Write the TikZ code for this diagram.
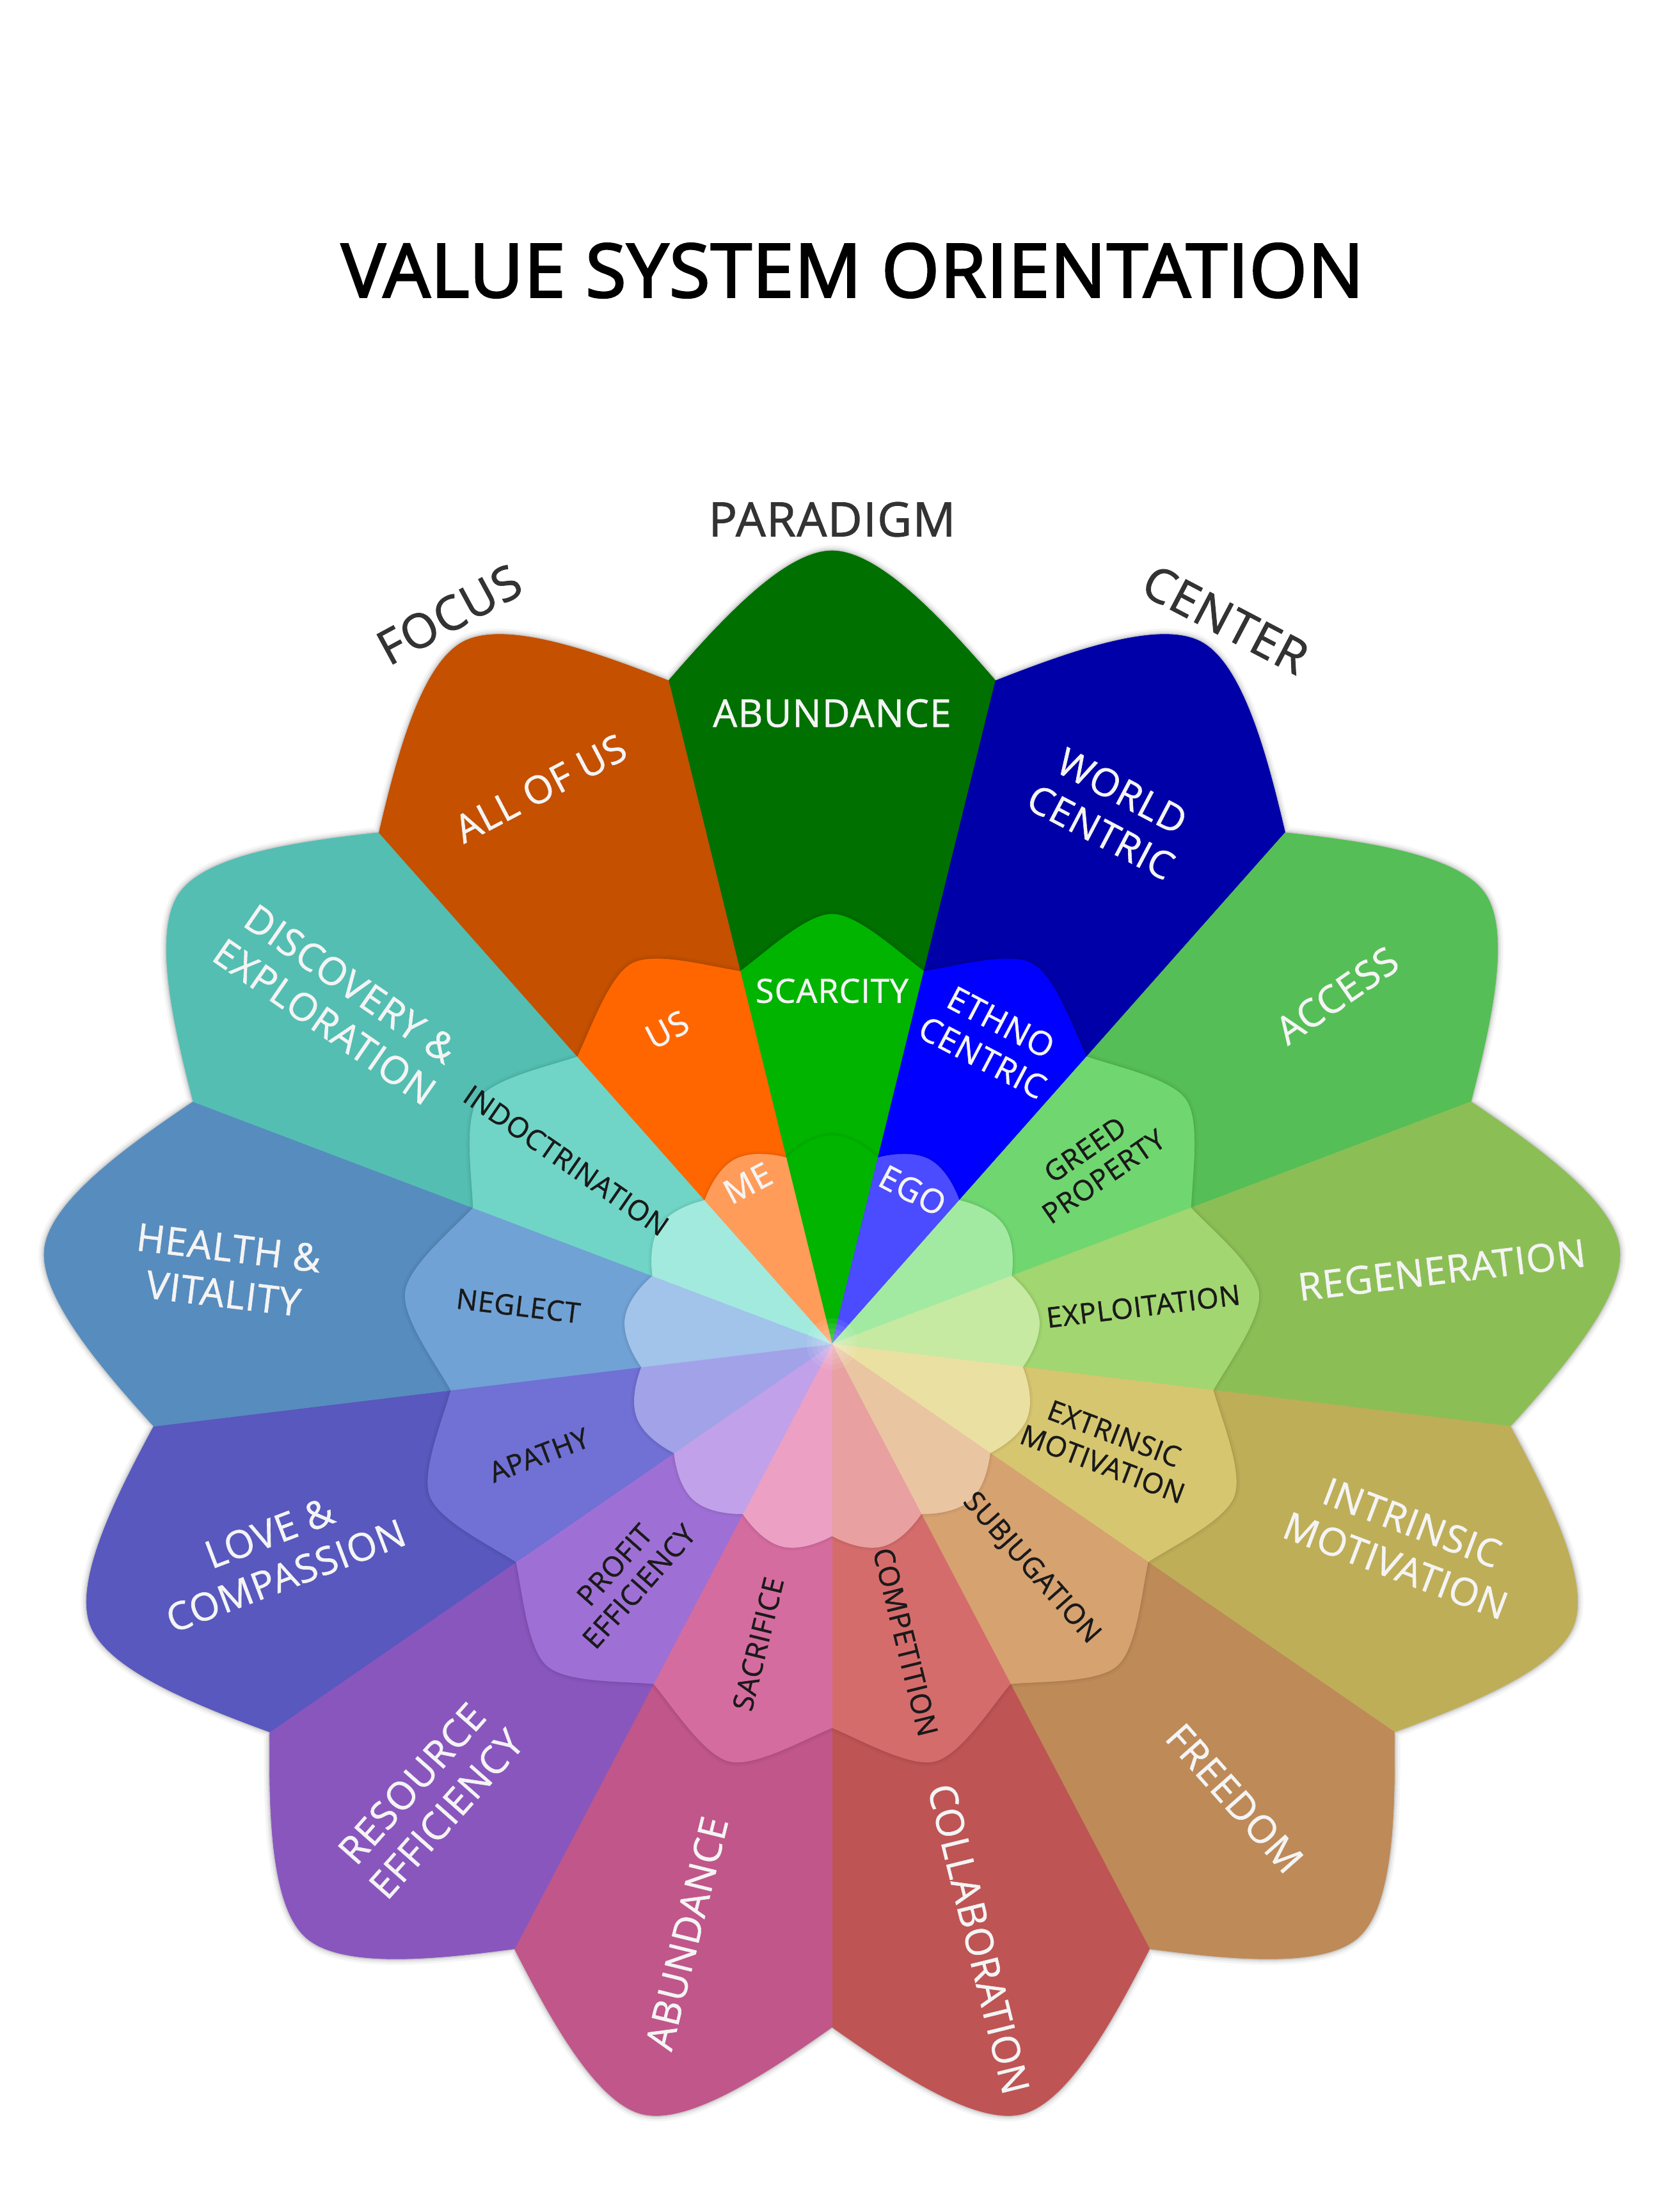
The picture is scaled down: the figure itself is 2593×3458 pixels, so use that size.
\documentclass[tikz,border=0pt]{standalone}
\usepackage{fontspec}
\setmainfont{Open Sans}[FakeBold=1.0, LetterSpace=2.0]
\newfontfamily\titlefont{Open Sans}[FakeBold=2.6, LetterSpace=1.0]
\newfontfamily\headfont{Open Sans}[FakeBold=1.4, LetterSpace=2.0]

% outer ring colours
\definecolor{o0}{HTML}{007000}
\definecolor{o1}{HTML}{0000A8}
\definecolor{o2}{HTML}{56BE56}
\definecolor{o3}{HTML}{8CBE56}
\definecolor{o4}{HTML}{BEAE58}
\definecolor{o5}{HTML}{BE8A58}
\definecolor{o6}{HTML}{BE5454}
\definecolor{o7}{HTML}{C05689}
\definecolor{o8}{HTML}{8956BE}
\definecolor{o9}{HTML}{5858BE}
\definecolor{o10}{HTML}{578CBE}
\definecolor{o11}{HTML}{54BEB2}
\definecolor{o12}{HTML}{C45000}
% middle ring colours
\definecolor{m0}{HTML}{00B400}
\definecolor{m1}{HTML}{0000FF}
\definecolor{m2}{HTML}{70D670}
\definecolor{m3}{HTML}{A2D670}
\definecolor{m4}{HTML}{D6C670}
\definecolor{m5}{HTML}{D6A270}
\definecolor{m6}{HTML}{D56C6C}
\definecolor{m7}{HTML}{D56C9F}
\definecolor{m8}{HTML}{9E70D5}
\definecolor{m9}{HTML}{7070D5}
\definecolor{m10}{HTML}{70A2D5}
\definecolor{m11}{HTML}{70D5C6}
\definecolor{m12}{HTML}{FF6600}
% inner ring colours
\definecolor{i0}{HTML}{00B400}
\definecolor{i1}{HTML}{4B4BFF}
\definecolor{i2}{HTML}{A2EAA2}
\definecolor{i3}{HTML}{C6EAA2}
\definecolor{i4}{HTML}{EAE0A2}
\definecolor{i5}{HTML}{EAC5A2}
\definecolor{i6}{HTML}{E8A0A0}
\definecolor{i7}{HTML}{EBA0C4}
\definecolor{i8}{HTML}{C1A1EA}
\definecolor{i9}{HTML}{A2A2E8}
\definecolor{i10}{HTML}{A2C3EA}
\definecolor{i11}{HTML}{A2EADE}
\definecolor{i12}{HTML}{FF9C5A}
% text colours
\definecolor{tw}{HTML}{F4F4F4}
\definecolor{tb}{HTML}{1A1A1A}
\definecolor{th}{HTML}{333333}

% #1 axis angle, #2 corner r, #3 c1 r, #4 c1 offset, #5 c2 r, #6 c2 offset, #7 apex r
\newcommand\petalshape[7]{(0,0) -- ({#1+13.846}:#2) .. controls ({#1+#4}:#3) and ({#1+#6}:#5) .. ({#1}:#7) .. controls ({#1-#6}:#5) and ({#1-#4}:#3) .. ({#1-13.846}:#2) -- cycle}
% whole silhouette of a ring
\newcommand\silhouette[6]{({103.846}:#1) \foreach \k in {0,...,12}{ .. controls ({90-27.6923*\k+#3}:#2) and ({90-27.6923*\k+#5}:#4) .. ({90-27.6923*\k}:#6) .. controls ({90-27.6923*\k-#5}:#4) and ({90-27.6923*\k-#3}:#2) .. ({90-27.6923*\k-13.846}:#1)} -- cycle}

\tikzset{
  ow/.style={text=tw, font=\fontsize{60}{72}\selectfont, align=center, inner sep=0pt},
  mw/.style={text=tw, font=\fontsize{52}{62}\selectfont, align=center, inner sep=0pt},
  mb/.style={text=tb, font=\fontsize{44}{51}\selectfont, align=center, inner sep=0pt},
  hd/.style={text=th, font=\headfont\fontsize{74}{84}\selectfont, inner sep=0pt},
  halo/.style={draw=black, line join=round, fill=none}
}

\begin{document}
\begin{tikzpicture}[x=1pt,y=1pt]
\fill[white] (-1300.5,-1357) rectangle (1292.5,2101);
\useasboundingbox (-1300.5,-1357) rectangle (1292.5,2101);

% ---- outer ring ----
\draw[halo, line width=18, opacity=0.04] \silhouette{1068}{1143.5}{8.80}{1242.2}{3.43}{1240};
\draw[halo, line width=11, opacity=0.06] \silhouette{1068}{1143.5}{8.80}{1242.2}{3.43}{1240};
\draw[halo, line width=5, opacity=0.10] \silhouette{1068}{1143.5}{8.80}{1242.2}{3.43}{1240};
\foreach \k in {0,...,12}{
  \filldraw[fill=o\k, draw=o\k, line width=0.6] \petalshape{90-27.6923*\k}{1068}{1143.5}{8.80}{1242.2}{3.43}{1240};
}

% ---- middle ring ----
\draw[halo, line width=12, opacity=0.03] \silhouette{600}{620.9}{9.58}{673.2}{3.43}{672};
\draw[halo, line width=5, opacity=0.05] \silhouette{600}{620.9}{9.58}{673.2}{3.43}{672};
\foreach \k in {0,...,12}{
  \filldraw[fill=m\k, draw=m\k, line width=0.6] \petalshape{90-27.6923*\k}{600}{620.9}{9.58}{673.2}{3.43}{672};
}

% ---- inner ring ----
\draw[halo, line width=10, opacity=0.03] \silhouette{300}{308.8}{10.96}{327.3}{5.14}{326};
\draw[halo, line width=4, opacity=0.05] \silhouette{300}{308.8}{10.96}{327.3}{5.14}{326};
\foreach \k in {0,...,12}{
  \filldraw[fill=i\k, draw=i\k, line width=0.6] \petalshape{90-27.6923*\k}{300}{308.8}{10.96}{327.3}{5.14}{326};
}

% centre glow
\foreach \r in {8,16,24,32,40}{ \fill[white, opacity=0.08] (0,0) circle (\r); }

% ---- title and headings ----
\node[text=black, font=\titlefont\fontsize{116}{130}\selectfont, inner sep=0pt] (title) at (32,1678) {VALUE SYSTEM ORIENTATION};
\node[hd, rotate=28.5] (focus) at (117.69:1288) {FOCUS};
\node[hd] (paradigm) at (90:1289) {PARADIGM};
\node[hd, rotate=-27.69] (centerlbl) at (61.5:1289) {CENTER};

% ---- outer labels ----
\node[ow] (o0l) at (90:986) {ABUNDANCE};
\node[ow, rotate=-27.69] (o1l) at (62.31:940) {WORLD\\CENTRIC};
\node[ow, rotate=34.62] (o2l) at (34.62:959) {ACCESS};
\node[ow, rotate=6.92] (o3l) at (6.92:960) {REGENERATION};
\node[ow, rotate=-20.77] (o4l) at (-19.3:947) {INTRINSIC\\MOTIVATION};
\node[ow, rotate=-48.46] (o5l) at (-48.46:949) {FREEDOM};
\node[ow, rotate=-76.15] (o6l) at (-76.15:958) {COLLABORATION};
\node[ow, rotate=76.15] (o7l) at (-103.85:949) {ABUNDANCE};
\node[ow, rotate=48.46] (o8l) at (-131.54:950) {RESOURCE\\EFFICIENCY};
\node[ow, rotate=20.77] (o9l) at (-159.23:927) {LOVE \&\\COMPASSION};
\node[ow, rotate=-6.92] (o10l) at (173.08:954) {HEALTH \&\\VITALITY};
\node[ow, rotate=-34.62] (o11l) at (145.38:939) {DISCOVERY \&\\EXPLORATION};
\node[ow, rotate=27.69] (o12l) at (117.69:981) {ALL OF US};

% ---- middle labels ----
\node[mw] (m0l) at (90:552) {SCARCITY};
\node[mw, rotate=-27.69] (m1l) at (62.31:537) {ETHNO\\CENTRIC};
\node[mb, rotate=34.62] (m2l) at (34.62:498) {GREED\\PROPERTY};
\node[mb, rotate=6.92] (m3l) at (6.92:490) {EXPLOITATION};
\node[mb, rotate=-20.77] (m4l) at (-20.77:462) {EXTRINSIC\\MOTIVATION};
\node[mb, rotate=-48.46] (m5l) at (-48.46:469) {SUBJUGATION};
\node[mb, rotate=-76.15] (m6l) at (-76.15:480) {COMPETITION};
\node[mb, rotate=76.15] (m7l) at (-103.85:483) {SACRIFICE};
\node[mb, rotate=48.46] (m8l) at (-131.54:484) {PROFIT\\EFFICIENCY};
\node[mb, rotate=20.77] (m9l) at (-159.23:490) {APATHY};
\node[mb, rotate=-6.92] (m10l) at (173.08:494) {NEGLECT};
\node[mb, rotate=-34.62] (m11l) at (145.38:505) {INDOCTRINATION};
\node[mw, rotate=27.69] (m12l) at (117.69:555) {US};

% ---- inner labels ----
\node[mw, rotate=27.69] (i12l) at (117.69:284) {ME};
\node[mw, rotate=-27.69] (i1l) at (62.31:271) {EGO};
\end{tikzpicture}
\end{document}
